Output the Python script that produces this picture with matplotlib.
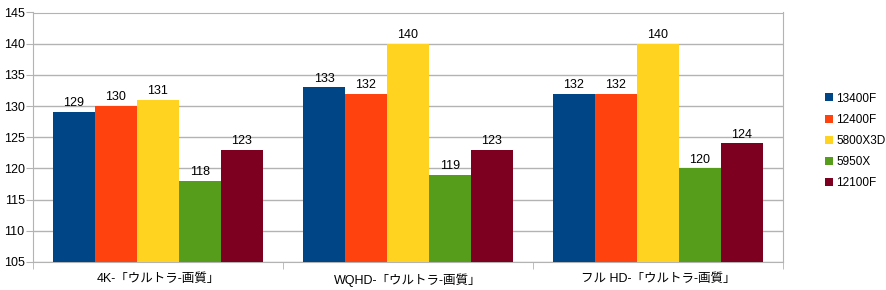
import numpy as np
import matplotlib.pyplot as plt
from matplotlib.patches import Patch

plt.rcParams['font.family'] = ['Liberation Sans', 'Noto Sans CJK JP', 'DejaVu Sans']

groups = ["4K-「ウルトラ-画質」", "WQHD-「ウルトラ-画質」", "フル HD-「ウルトラ-画質」"]
cpus = ["13400F", "12400F", "5800X3D", "5950X", "12100F"]
scores = {
    "13400F": [129, 133, 132],
    "12400F": [130, 132, 132],
    "5800X3D": [131, 140, 140],
    "5950X": [118, 119, 120],
    "12100F": [123, 123, 124],
}
colors = ["#004586", "#ff420e", "#ffd320", "#579d1c", "#7e0021"]

fig = plt.figure(figsize=(8.87, 2.90), dpi=100)
ax = fig.add_axes([33/887, 28/290, 750/887, 249.5/290])

x = np.arange(len(groups))
w = 0.168
for i, cpu in enumerate(cpus):
    bars = ax.bar(x + (i - 2) * w, scores[cpu], w, bottom=0, color=colors[i], zorder=3)
    for b, v in zip(bars, scores[cpu]):
        ax.text(b.get_x() + b.get_width() / 2, v + 0.45, str(v), ha="center", va="bottom",
                fontsize=9, color="black")

ax.set_ylim(105, 145)
ax.set_xlim(-0.5, 2.5)
ax.set_yticks(np.arange(105, 146, 5))
ax.yaxis.grid(True, color="#b3b3b3", linewidth=1, zorder=0)
ax.set_xticks(x)
ax.set_xticklabels(groups, fontsize=9)
ax.set_xticks([-0.5, 0.5, 1.5, 2.5], minor=True)
ax.tick_params(axis="x", which="major", length=0, pad=8)
ax.tick_params(axis="x", which="minor", length=5, color="#b3b3b3")
ax.tick_params(axis="y", length=5, color="#b3b3b3", labelsize=9, pad=1)
for s in ax.spines.values():
    s.set_color("#b3b3b3")

handles = [Patch(facecolor=c, label=l) for c, l in zip(colors, cpus)]
fig.legend(handles=handles, loc="center left", bbox_to_anchor=(820/887, 0.514), frameon=False,
           fontsize=8.5, handlelength=0.66, handleheight=0.66, handletextpad=0.34, labelspacing=0.78,
           borderaxespad=0)

fig.savefig("out.png", dpi=100)
